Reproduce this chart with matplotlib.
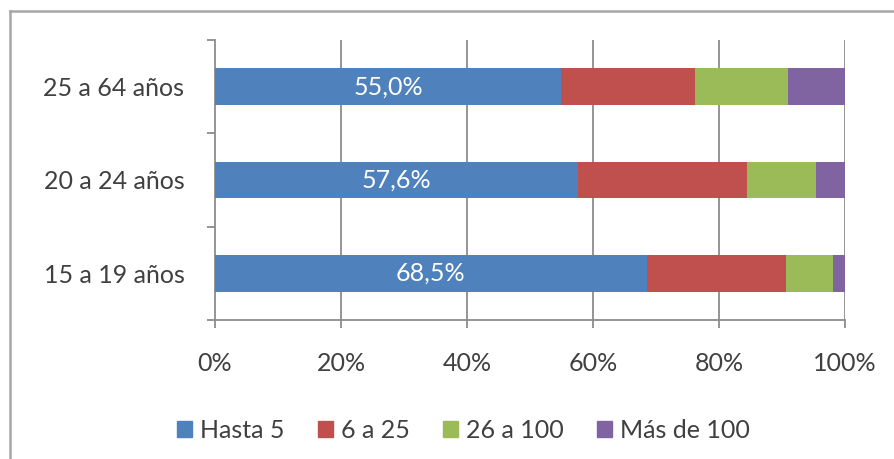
import matplotlib.pyplot as plt
import numpy as np
from matplotlib.lines import Line2D

plt.rcParams['font.family'] = ['Lato', 'DejaVu Sans']

grupos = ['15 a 19 años', '20 a 24 años', '25 a 64 años']
tramos = ['Hasta 5', '6 a 25', '26 a 100', 'Más de 100']
hasta_5 = [68.5, 57.6, 55.0]
de_6_a_25 = [22.1, 26.8, 21.2]
de_26_a_100 = [7.5, 11.0, 14.8]
mas_de_100 = [1.9, 4.6, 9.0]
colores = ['#4F81BD', '#C0504D', '#9BBB59', '#8064A2']
xticks = [0, 20, 40, 60, 80, 100]

texto = '#404040'
gris = '#8C8C8C'
fs = 18

fig = plt.figure(figsize=(8.95, 4.59), dpi=100, facecolor='white')
ax = fig.add_axes([0.2402, 0.3028, 0.7039, 0.6101])

y = np.arange(len(grupos))
left = np.zeros(len(grupos))
for serie, color, nombre in zip([hasta_5, de_6_a_25, de_26_a_100, mas_de_100], colores, tramos):
    ax.barh(y, serie, left=left, height=0.39, color=color, label=nombre, zorder=3)
    left = left + np.array(serie)

for yi, v in zip(y, hasta_5):
    ax.text(v / 2, yi, f'{v:.1f}%'.replace('.', ','), ha='center', va='center',
            color='white', fontsize=fs, zorder=4)

ax.set_xlim(0, 100)
ax.set_ylim(-0.5, 2.5)
ax.set_xticks(xticks)
ax.set_xticklabels([f'{t}%' for t in xticks])
ax.set_yticks(y)
ax.set_yticklabels(grupos)
ax.set_yticks([-0.5, 0.5, 1.5, 2.5], minor=True)

for t in xticks[1:]:
    ax.axvline(t, color=gris, lw=1.3, zorder=1)

for s in ['top', 'right']:
    ax.spines[s].set_visible(False)
for s in ['left', 'bottom']:
    ax.spines[s].set_color(gris)
    ax.spines[s].set_linewidth(1.3)

ax.tick_params(axis='x', length=6, width=1.3, color=gris, pad=17, labelsize=fs, labelcolor=texto)
ax.tick_params(axis='y', which='major', length=0, pad=22, labelsize=fs, labelcolor=texto)
ax.tick_params(axis='y', which='minor', length=6, width=1.3, color=gris)

handles = [plt.Rectangle((0, 0), 1, 1, color=c) for c in colores]
fig.legend(handles, tramos, loc='center', bbox_to_anchor=(0.518, 0.063), ncol=4,
           frameon=False, fontsize=fs, labelcolor=texto, handlelength=0.6, handleheight=0.6,
           handletextpad=0.3, columnspacing=1.35)

# outer chart frame (top and left edges)
fig.add_artist(Line2D([0.0112, 1.0], [1 - 11 / 459, 1 - 11 / 459], color='#A6A6A6', lw=1.8,
                      transform=fig.transFigure))
fig.add_artist(Line2D([0.0112, 0.0112], [0.0, 1 - 11 / 459], color='#A6A6A6', lw=1.8,
                      transform=fig.transFigure))

fig.savefig('out.png', dpi=100, facecolor='white')
